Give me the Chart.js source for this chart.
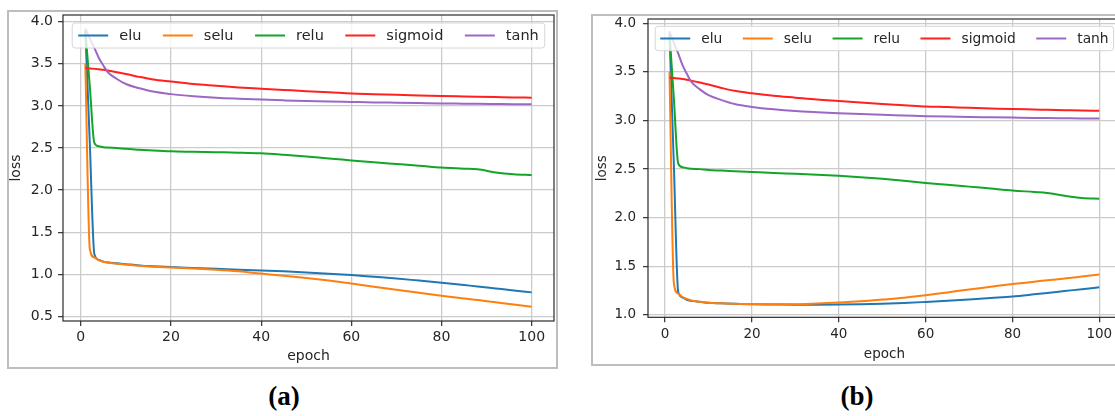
<!DOCTYPE html>
<html>
<head>
<meta charset="utf-8">
<script src="https://cdn.jsdelivr.net/npm/chart.js@4.4.0/dist/chart.umd.min.js"></script>
<style>
  html, body { margin:0; padding:0; width:1115px; height:416px; overflow:hidden; background:#fff; }
  .frame { position:absolute; border:2px solid #bdbdbd; box-sizing:border-box; }
  .cap { position:absolute; font-family:"Liberation Serif", serif; font-weight:bold; font-size:27px; color:#000; transform:translateX(-50%); }
  canvas { position:absolute; }
</style>
</head>
<body>
<div class="frame" style="left:7px;top:10px;width:551px;height:359px;"></div>
<div class="frame" style="left:591px;top:14px;width:600px;height:352px;"></div>
<canvas id="ca" style="left:0px;top:0px;"></canvas>
<canvas id="cb" style="left:580px;top:0px;"></canvas>
<div class="cap" style="left:284px;top:381px;">(a)</div>
<div class="cap" style="left:857px;top:381px;">(b)</div>
<script>
// ---- data ----
const seriesNames = ["elu", "selu", "relu", "sigmoid", "tanh"];
const seriesColors = ["#1f77b4", "#ff7f0e", "#12a52a", "#ff2020", "#9c68c4"];
const epochs = [1,2,3,4,5,6,8,10,13,16,20,25,30,35,40,45,50,55,60,65,70,75,80,85,88,92,96,100];
const xTicks = [0,20,40,60,80,100];
const yTicksA = [0.5,1.0,1.5,2.0,2.5,3.0,3.5,4.0];
const yTicksB = [1.0,1.5,2.0,2.5,3.0,3.5,4.0];

const eluA  = [3.90,2.55,1.24,1.17,1.15,1.14,1.13,1.12,1.105,1.095,1.085,1.075,1.065,1.055,1.045,1.035,1.022,1.007,0.99,0.97,0.95,0.925,0.90,0.872,0.856,0.832,0.808,0.785];
const seluA = [3.50,1.30,1.20,1.165,1.15,1.14,1.125,1.115,1.10,1.09,1.08,1.07,1.055,1.035,1.008,0.983,0.956,0.925,0.89,0.853,0.815,0.78,0.745,0.712,0.695,0.668,0.64,0.615];
const reluA = [3.90,3.23,2.56,2.52,2.51,2.505,2.50,2.49,2.48,2.47,2.46,2.455,2.45,2.445,2.437,2.42,2.40,2.375,2.353,2.33,2.31,2.29,2.267,2.255,2.247,2.21,2.188,2.178];
const sigA  = [3.45,3.445,3.44,3.435,3.43,3.42,3.40,3.38,3.345,3.315,3.29,3.26,3.24,3.22,3.205,3.19,3.175,3.163,3.148,3.14,3.132,3.124,3.117,3.112,3.109,3.105,3.101,3.098];
const tanhA = [3.92,3.80,3.69,3.57,3.48,3.40,3.32,3.26,3.21,3.17,3.14,3.115,3.097,3.085,3.075,3.066,3.058,3.052,3.047,3.042,3.038,3.034,3.03,3.027,3.025,3.023,3.021,3.02];

const eluB  = [3.90,2.55,1.24,1.18,1.155,1.145,1.135,1.125,1.12,1.115,1.11,1.108,1.106,1.106,1.107,1.11,1.115,1.123,1.134,1.146,1.16,1.175,1.19,1.212,1.226,1.246,1.265,1.285];
const seluB = [3.50,1.33,1.22,1.185,1.165,1.15,1.135,1.125,1.12,1.115,1.112,1.11,1.11,1.117,1.127,1.14,1.158,1.178,1.203,1.232,1.262,1.29,1.318,1.342,1.357,1.375,1.395,1.415];
const reluB = [3.90,3.23,2.56,2.52,2.51,2.505,2.50,2.49,2.485,2.478,2.47,2.46,2.452,2.443,2.432,2.417,2.40,2.38,2.358,2.34,2.32,2.30,2.28,2.265,2.255,2.225,2.202,2.195];
const sigB  = [3.44,3.437,3.433,3.428,3.42,3.41,3.39,3.37,3.335,3.305,3.28,3.255,3.235,3.215,3.20,3.185,3.17,3.158,3.145,3.138,3.13,3.124,3.118,3.113,3.11,3.106,3.102,3.10];
const tanhB = [3.92,3.80,3.69,3.57,3.48,3.40,3.32,3.26,3.21,3.17,3.14,3.115,3.097,3.085,3.075,3.066,3.058,3.052,3.045,3.04,3.036,3.033,3.03,3.027,3.025,3.023,3.021,3.02];

// ---- plugins ----
const spines = {
  id: 'spines',
  afterDatasetsDraw(chart) {
    const a = chart.chartArea, ctx = chart.ctx;
    ctx.save();
    ctx.strokeStyle = '#2a2a2a';
    ctx.lineWidth = 1.2;
    ctx.strokeRect(a.left, a.top, a.right - a.left, a.bottom - a.top);
    ctx.restore();
  }
};
const mplLegend = {
  id: 'mplLegend',
  afterDatasetsDraw(chart, args, o) {
    const ctx = chart.ctx, a = chart.chartArea;
    ctx.save();
    ctx.font = o.fontSize + 'px "DejaVu Sans"';
    const items = chart.data.datasets.map(ds => ({label: ds.label, color: ds.borderColor, w: ctx.measureText(ds.label).width}));
    const inner = items.reduce((s, it) => s + o.handleLen + o.handlePad + it.w, 0) + o.colSpacing * (items.length - 1);
    const bw = inner + 2 * o.padX;
    const x0 = (a.left + a.right) / 2 - bw / 2;
    const y0 = a.top + o.top;
    const r = 3;
    ctx.beginPath();
    ctx.moveTo(x0 + r, y0);
    ctx.arcTo(x0 + bw, y0, x0 + bw, y0 + o.boxH, r);
    ctx.arcTo(x0 + bw, y0 + o.boxH, x0, y0 + o.boxH, r);
    ctx.arcTo(x0, y0 + o.boxH, x0, y0, r);
    ctx.arcTo(x0, y0, x0 + bw, y0, r);
    ctx.closePath();
    ctx.fillStyle = 'rgba(255,255,255,0.8)';
    ctx.fill();
    ctx.strokeStyle = '#d6d6d6';
    ctx.lineWidth = 1;
    ctx.stroke();
    let x = x0 + o.padX;
    const yc = y0 + o.boxH / 2;
    ctx.textBaseline = 'middle';
    ctx.textAlign = 'left';
    items.forEach(it => {
      ctx.beginPath();
      ctx.strokeStyle = it.color;
      ctx.lineWidth = 2;
      ctx.moveTo(x, yc);
      ctx.lineTo(x + o.handleLen, yc);
      ctx.stroke();
      x += o.handleLen + o.handlePad;
      ctx.fillStyle = '#262626';
      ctx.fillText(it.label, x, yc + 0.5);
      x += it.w + o.colSpacing;
    });
    ctx.restore();
  }
};

Chart.defaults.font.family = '"DejaVu Sans"';
Chart.defaults.color = '#262626';

function makeChart(id, w, h, series, cfg) {
  const canvas = document.getElementById(id);
  canvas.width = w; canvas.height = h;
  canvas.style.width = w + 'px'; canvas.style.height = h + 'px';
  const datasets = series.map((vals, i) => ({
    label: seriesNames[i],
    data: epochs.map((e, k) => ({x: e, y: vals[k]})),
    borderColor: seriesColors[i],
    backgroundColor: seriesColors[i],
    borderWidth: 2,
    pointRadius: 0,
    cubicInterpolationMode: 'monotone',
    order: series.length - 1 - i
  }));
  return new Chart(canvas, {
    type: 'line',
    data: { datasets },
    plugins: [spines, mplLegend],
    options: {
      responsive: false,
      animation: false,
      events: [],
      layout: { padding: cfg.padding },
      plugins: {
        legend: { display: false },
        tooltip: { enabled: false },
        mplLegend: cfg.legend
      },
      scales: {
        x: {
          type: 'linear',
          min: -3.95, max: 104.95,
          afterFit(s) { s.height = cfg.xAxisH; },
          afterBuildTicks(s) { s.ticks = xTicks.map(v => ({value: v})); },
          ticks: { font: {size: cfg.fs}, padding: cfg.xPad, maxRotation: 0, autoSkip: false, color: '#262626' },
          grid: { color: '#cbcbcb', lineWidth: 1.3, tickLength: 5, tickColor: '#333', tickWidth: 1.2 },
          border: { display: false },
          title: { display: true, text: 'epoch', font: {size: cfg.fs}, padding: {top: 0, bottom: cfg.xTitlePad}, color: '#262626' }
        },
        y: {
          type: 'linear',
          min: cfg.yMin, max: cfg.yMax,
          afterFit(s) { s.width = cfg.yAxisW; },
          afterBuildTicks(s) { s.ticks = cfg.yTicks.map(v => ({value: v})); },
          ticks: { font: {size: cfg.fs}, padding: cfg.yPad, autoSkip: false, color: '#262626', callback: v => Number(v).toFixed(1) },
          grid: { color: '#cbcbcb', lineWidth: 1.3, tickLength: 5, tickColor: '#333', tickWidth: 1.2 },
          border: { display: false },
          title: { display: true, text: 'loss', font: {size: cfg.fs}, padding: {top: cfg.yTitlePad, bottom: 0}, color: '#262626' }
        }
      }
    }
  });
}

makeChart('ca', 560, 372, [eluA, seluA, reluA, sigA, tanhA], {
  padding: {left: 0, top: 15, right: 6, bottom: 0},
  yAxisW: 63, xAxisH: 51, fs: 14, xPad: 3, yPad: 5,
  xTitlePad: 7.6, yTitlePad: 8.3,
  yMin: 0.445, yMax: 4.08, yTicks: yTicksA,
  legend: {fontSize: 14.5, handleLen: 30, handlePad: 11, colSpacing: 21.5, padX: 6, top: 8, boxH: 25}
});
makeChart('cb', 545, 372, [eluB, seluB, reluB, sigB, tanhB], {
  padding: {left: 0, top: 19, right: 4.2, bottom: 0},
  yAxisW: 68, xAxisH: 54.7, fs: 13.5, xPad: 3.6, yPad: 7,
  xTitlePad: 9.9, yTitlePad: 14.4,
  yMin: 0.976, yMax: 4.044, yTicks: yTicksB,
  legend: {fontSize: 13.8, handleLen: 30, handlePad: 11, colSpacing: 20.5, padX: 5, top: 7.3, boxH: 24.4}
});
</script>
</body>
</html>
